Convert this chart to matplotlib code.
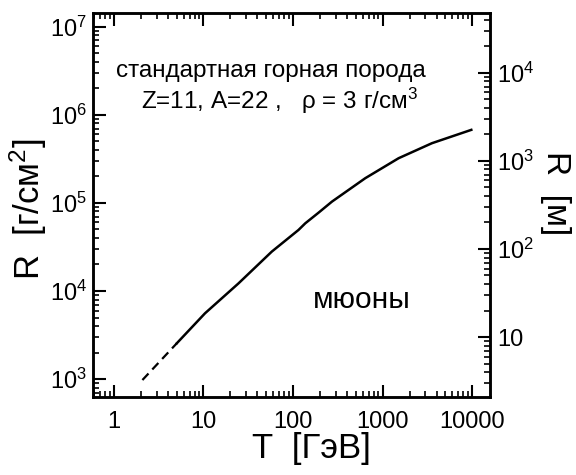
import matplotlib
matplotlib.use('Agg')
import matplotlib.pyplot as plt

plt.rcParams['font.family'] = ['Liberation Sans', 'DejaVu Sans']
plt.rcParams['mathtext.fontset'] = 'custom'
plt.rcParams['mathtext.rm'] = 'Liberation Sans'
plt.rcParams['mathtext.it'] = 'Liberation Sans'

# muon range in standard rock
T_dash = [2.08, 5.03]
R_dash = [975, 2545]
T_solid = [5.03, 10.4, 24.6, 57.9, 115, 137, 193, 272, 641, 1510, 3560, 9790]
R_solid = [2545, 5580, 1.22e4, 2.80e4, 4.93e4, 5.87e4, 7.76e4, 1.035e5,
           1.91e5, 3.22e5, 4.77e5, 6.76e5]

x_ticks = [1, 10, 100, 1000, 10000]
x_labels = ['1', '10', '100', '1000', '10000']
y_ticks = [1e3, 1e4, 1e5, 1e6, 1e7]
y_labels = ['10$^3$', '10$^4$', '10$^5$', '10$^6$', '10$^7$']
m_ticks = [10, 100, 1000, 10000]
m_labels = ['10', '10$^2$', '10$^3$', '10$^4$']

rho = 3.0  # g/cm3 -> R[m] = R[g/cm2] / (rho * 100)
ylo, yhi = 10 ** 2.795, 10 ** 7.159

fig = plt.figure(figsize=(5.76, 4.75), dpi=100)
ax = fig.add_axes([0.161, 0.164, 0.69, 0.809])

ax.plot(T_dash, R_dash, color='black', lw=1.6, ls=(0, (4, 2.5)))
ax.plot(T_solid, R_solid, color='black', lw=1.8)

ax.set_xscale('log')
ax.set_yscale('log')
ax.set_xlim(0.58, 15900)
ax.set_ylim(ylo, yhi)

ax.set_xticks(x_ticks)
ax.set_xticklabels(x_labels)
ax.set_yticks(y_ticks)
ax.set_yticklabels(y_labels)
ax.tick_params(which='major', direction='in', length=9, width=1.5, labelsize=17,
               top=True, right=False, pad=4)
ax.tick_params(axis='x', which='major', pad=10)
ax.tick_params(which='minor', direction='in', length=4.5, width=1.2,
               top=True, right=False)
for s in ax.spines.values():
    s.set_linewidth(1.8)

ax2 = ax.twinx()
ax2.set_yscale('log')
ax2.set_ylim(ylo / (rho * 100), yhi / (rho * 100))
ax2.set_yticks(m_ticks)
ax2.set_yticklabels(m_labels)
ax2.tick_params(which='major', direction='in', length=9, width=1.5, labelsize=17, pad=5)
ax2.tick_params(which='minor', direction='in', length=4.5, width=1.2)
for s in ax2.spines.values():
    s.set_linewidth(1.8)

ax.set_ylabel('R  [г/см$^2$]', fontsize=25)
ax.yaxis.set_label_coords(-0.11, 0.49)
ax.set_xlabel('T  [ГэВ]', fontsize=25)
ax.xaxis.set_label_coords(0.55, -0.092)
ax2.set_ylabel('R  [м]', fontsize=24, rotation=270, va='center')
ax2.yaxis.set_label_coords(1.165, 0.53)

ax.text(0.448, 0.848, 'стандартная горная порода', transform=ax.transAxes,
        ha='center', va='center', fontsize=17.5)
ax.text(0.47, 0.772, 'Z=11, A=22 ,   ρ = 3 г/см$^3$', transform=ax.transAxes,
        ha='center', va='center', fontsize=17.5)
ax.text(0.678, 0.253, 'мюоны', transform=ax.transAxes,
        ha='center', va='center', fontsize=21.5)

fig.savefig('out.png', dpi=100)
